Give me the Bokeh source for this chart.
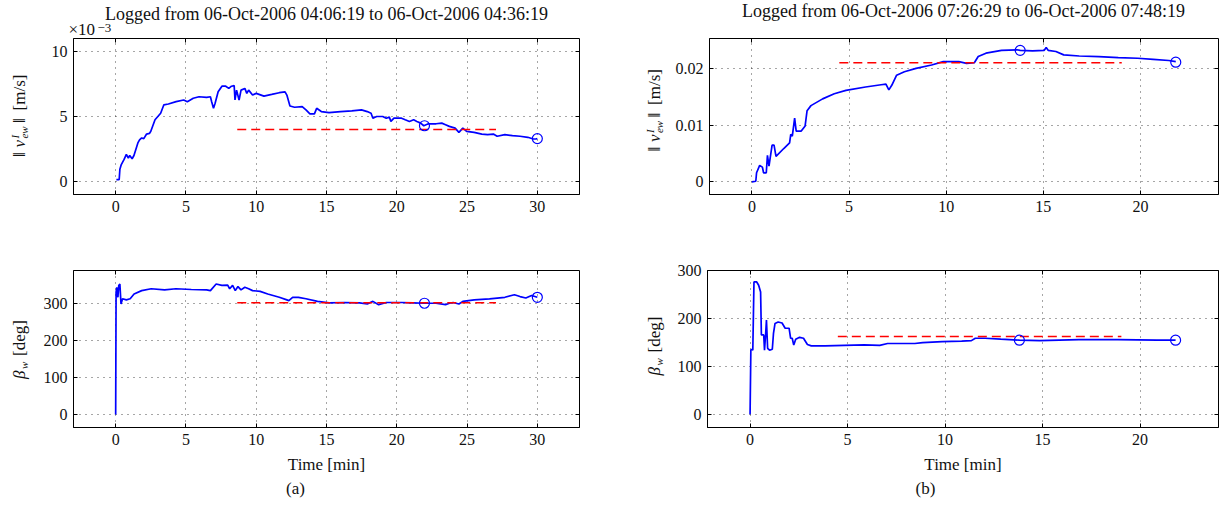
import math
from bokeh.plotting import figure
from bokeh.models import Range1d, FixedTicker, LinearAxis, Label, CustomJSTickFormatter
from bokeh.layouts import column, row
from bokeh.embed import file_html
from bokeh.resources import INLINE

FONT = "Liberation Serif"
BLUE = "#0000ff"
RED = "#ff0000"
INK = "#111111"

# ---------------- data (a) ----------------
title_a = "Logged from 06-Oct-2006 04:06:19 to 06-Oct-2006 04:36:19"
time_a = [0.05, 0.25, 0.3, 0.4, 0.6, 0.76, 0.9, 1.0, 1.17, 1.3, 1.58, 1.7, 1.85, 2.0, 2.2, 2.4, 2.5, 2.8,
          3.2, 3.43, 3.75, 4.3, 4.84, 5.1, 5.52, 5.93, 6.47, 6.74, 6.83, 6.96, 7.07, 7.29, 7.56, 7.83,
          8.05, 8.24, 8.43, 8.49, 8.6, 8.78, 8.92, 9.19, 9.33, 9.46, 9.74, 10.0, 10.55, 11.1, 11.64,
          12.05, 12.18, 12.4, 12.73, 13.27, 13.54, 13.82, 14.14, 14.3, 14.63, 15.18, 16.0, 16.8, 17.49,
          17.9, 18.17, 18.3, 18.57, 19.0, 19.25, 19.47, 19.58, 19.8, 20.34, 20.6, 20.9, 21.2, 21.43,
          21.7, 21.92, 22.25, 22.8, 23.2, 23.47, 23.74, 24.15, 24.42, 24.7, 24.97, 25.5, 26.05, 26.46,
          26.87, 27.14, 27.69, 28.23, 28.77, 29.32, 29.72, 29.9, 30.0]
speed_a_milli = [0.15, 0.15, 0.94, 1.3, 1.7, 2.08, 1.8, 2.0, 1.75, 2.0, 2.97, 3.2, 3.35, 3.3, 3.65, 3.7, 3.86,
                 4.75, 5.25, 5.9, 5.96, 6.14, 6.27, 6.14, 6.4, 6.52, 6.47, 6.52, 6.14, 5.63, 6.0, 6.9, 7.33,
                 7.33, 7.16, 7.33, 7.38, 6.27, 7.03, 6.27, 7.03, 7.16, 6.78, 7.03, 6.65, 6.78, 6.57, 6.7,
                 6.83, 6.9, 6.65, 5.81, 5.71, 5.76, 5.51, 5.2, 5.2, 5.63, 5.38, 5.3, 5.38, 5.43, 5.51, 5.38,
                 5.25, 4.87, 5.0, 5.0, 4.87, 4.95, 4.62, 4.87, 4.87, 4.75, 4.62, 4.75, 4.62, 4.49, 4.29,
                 4.44, 4.44, 4.49, 4.37, 4.24, 4.11, 3.78, 4.11, 3.86, 3.78, 3.65, 3.6, 3.65, 3.48, 3.6,
                 3.53, 3.48, 3.4, 3.27, 3.27, 3.3]
time_a_dir = [0, 0.03, 0.08, 0.16, 0.22, 0.3, 0.38, 0.49, 0.76, 1.03, 1.31, 1.85, 2.53, 3.48, 4.29, 5.38,
              6.47, 6.74, 7.15, 7.56, 7.97, 8.11, 8.32, 8.51, 8.7, 8.92, 9.19, 9.46, 9.74, 10.28, 10.82,
              11.64, 12.18, 12.32, 12.59, 13.0, 13.54, 14.36, 15.18, 16.27, 17.35, 17.9, 18.3, 18.71,
              19.25, 20.34, 21.16, 21.97, 22.79, 23.47, 23.74, 24.01, 24.42, 24.7, 25.51, 26.6, 27.69,
              28.37, 28.77, 29.18, 29.59, 30.0]
dir_a = [0, 330, 343, 316, 348, 352, 298, 312, 309, 312, 325, 334, 339, 336, 339, 337, 336, 334, 352, 348,
         349, 339, 348, 334, 345, 336, 343, 339, 334, 332, 325, 316, 309, 307, 316, 316, 312, 305, 301,
         302, 301, 298, 305, 296, 302, 302, 301, 300, 300, 296, 300, 302, 298, 305, 309, 312, 316, 323,
         318, 314, 321, 316]
mark_a_time = [21.97, 30.0]
mark_a_speed_milli = [4.29, 3.3]
mark_a_dir = [300, 316]
ref_a_time = [8.65, 27.06]
ref_a_speed_milli = 4.0
ref_a_dir = 301

# ---------------- data (b) ----------------
title_b = "Logged from 06-Oct-2006 07:26:29 to 06-Oct-2006 07:48:19"
time_b = [0, 0.2, 0.24, 0.4, 0.54, 0.6, 0.74, 0.8, 0.88, 0.94, 1.04, 1.14, 1.24, 1.64, 1.94, 2.0, 2.08,
          2.2, 2.28, 2.54, 2.74, 2.84, 3.04, 3.64, 4.24, 4.84, 5.85, 6.65, 6.9, 7.05, 7.2, 7.45, 7.85,
          8.45, 9.25, 9.85, 10.65, 11.05, 11.45, 11.65, 12.05, 12.85, 13.65, 13.81, 14.45, 15.05, 15.15,
          15.25, 15.65, 16.05, 16.85, 17.86, 18.86, 19.86, 20.66, 21.46, 21.82]
speed_b = [0, 0.0001, 0.0016, 0.0029, 0.0026, 0.0016, 0.0016, 0.0047, 0.0028, 0.0042, 0.0065, 0.0065,
           0.0045, 0.0059, 0.0069, 0.0084, 0.0081, 0.0113, 0.009, 0.009, 0.0099, 0.0126, 0.0135, 0.0147,
           0.0156, 0.0162, 0.0168, 0.0172, 0.0173, 0.0163, 0.0171, 0.0189, 0.0195, 0.0201, 0.0207,
           0.0213, 0.0213, 0.021, 0.0211, 0.0222, 0.0228, 0.0233, 0.0234, 0.0233, 0.0232, 0.0233,
           0.0238, 0.0233, 0.0231, 0.0225, 0.0223, 0.0222, 0.022, 0.0219, 0.0217, 0.0215, 0.0213]
time_b_dir = [0, 0.04, 0.08, 0.14, 0.2, 0.34, 0.44, 0.54, 0.58, 0.7, 0.74, 0.8, 0.84, 0.9, 1.0, 1.14, 1.2,
              1.28, 1.44, 1.64, 1.8, 2.0, 2.08, 2.16, 2.24, 2.34, 2.54, 2.74, 2.94, 3.14, 3.84, 4.84,
              5.85, 6.65, 7.05, 7.85, 8.45, 8.85, 9.85, 10.85, 11.35, 11.55, 12.05, 12.85, 13.81, 14.85,
              15.86, 16.86, 18.86, 20.86, 21.82]
dir_b = [0, 134, 136, 134, 277, 277, 270, 256, 166, 166, 134, 169, 197, 138, 134, 136, 169, 190, 193, 191,
         180, 180, 159, 159, 145, 157, 161, 159, 146, 143, 143, 144, 145, 144, 148, 148, 148, 150, 152,
         153, 154, 159, 159, 157, 155, 154, 155, 156, 156, 155, 155]
mark_b_time = [13.81, 21.82]
mark_b_speed = [0.0233, 0.0212]
mark_b_dir = [155, 155]
ref_b_time = [4.5, 19.04]
ref_b_speed = 0.0211
ref_b_dir = 162.5

ticks_a_x = [0, 5, 10, 15, 20, 25, 30]
ticks_b_x = [0, 5, 10, 15, 20]
ticks_a_speed = [0, 5, 10]
ticks_b_speed = [0, 0.01, 0.02]
ticks_dir = [0, 100, 200, 300]

xlabel = "Time [min]"
captions = ["(a)", "(b)"]


def make_fig(w, h, borders, xr, yr, xticks, yticks, show_xlabel):
    p = figure(width=w, height=h, x_range=Range1d(*xr), y_range=Range1d(*yr),
               output_backend="svg", toolbar_location=None,
               min_border_left=borders[0], min_border_right=borders[1],
               min_border_top=borders[2], min_border_bottom=borders[3])
    p.outline_line_color = "black"
    p.outline_line_alpha = 1.0
    p.outline_line_width = 1
    p.background_fill_color = "white"
    p.border_fill_color = "white"
    p.xaxis.ticker = FixedTicker(ticks=xticks)
    p.yaxis.ticker = FixedTicker(ticks=yticks)
    for ax in list(p.xaxis) + list(p.yaxis):
        ax.major_tick_in = 4
        ax.major_tick_out = 0
        ax.minor_tick_line_color = None
        ax.axis_line_color = "black"
        ax.major_tick_line_color = "black"
        ax.major_label_text_font = FONT
        ax.major_label_text_font_size = "16px"
        ax.major_label_text_color = INK
    p.xaxis.major_label_standoff = 6
    p.yaxis.major_label_standoff = 6
    if show_xlabel:
        p.xaxis.axis_label = xlabel
        p.xaxis.axis_label_text_font = FONT
        p.xaxis.axis_label_text_font_size = "17px"
        p.xaxis.axis_label_text_font_style = "normal"
        p.xaxis.axis_label_text_color = INK
        p.xaxis.axis_label_standoff = 7
    for loc, tk in (("above", xticks), ("right", yticks)):
        ax = LinearAxis(ticker=FixedTicker(ticks=tk),
                        formatter=CustomJSTickFormatter(code="return ''"),
                        major_label_standoff=0, major_tick_in=4, major_tick_out=0,
                        minor_tick_line_color=None, axis_line_color=None,
                        major_label_text_font_size="1px")
        p.add_layout(ax, loc)
    p.grid.grid_line_color = "#000000"
    p.grid.grid_line_alpha = 0.7
    p.grid.grid_line_dash = "1 5"
    p.grid.grid_line_width = 1
    return p


def strip(w, h):
    p = figure(width=w, height=h, x_range=Range1d(0, w), y_range=Range1d(0, h),
               x_axis_type=None, y_axis_type=None, output_backend="svg", toolbar_location=None,
               min_border_left=0, min_border_right=0, min_border_top=0, min_border_bottom=0)
    p.outline_line_color = None
    p.background_fill_color = "white"
    p.border_fill_color = "white"
    return p


def lab(p, text, x, y, size, style="normal", align="left", baseline="alphabetic", angle=0.0):
    p.add_layout(Label(x=x, y=y, x_units="screen", y_units="screen", text=text, angle=angle,
                       text_align=align, text_baseline=baseline, text_font=FONT,
                       text_font_size=f"{size}px", text_font_style=style, text_color=INK))


def rot_label(p, pieces, xc, yc):
    # pieces: (text, size, style, dx, width, advance); centred pieces rotated 90 degrees.
    # yc is measured from the bottom of the (row-aligned) frame of the strip.
    total = sum(pc[5] for pc in pieces)
    cur = yc - total / 2.0
    for text, size, style, dx, wdt, adv in pieces:
        lab(p, text, xc + dx, cur + wdt / 2.0, size, style, align="center", baseline="middle",
            angle=math.pi / 2)
        cur += adv


speed_pieces = [("\u2016", 17, "normal", 0, 6, 10), ("v", 17, "italic", 0, 7.5, 9),
                ("I", 11, "italic", -5, 3.7, 0), ("ew", 11, "italic", 4, 12.2, 15),
                ("\u2016", 17, "normal", 0, 6, 13), ("[m/s]", 17, "normal", 0, 36, 36)]
dir_pieces = [("\u03b2", 17, "italic", 0, 8.5, 10), ("w", 11, "italic", 4, 7.3, 13),
              ("[deg]", 17, "normal", 0, 36, 36)]

# ---- title strips (page y 0..38) ----
t_left = strip(612, 38)
lab(t_left, title_a, 326, 25, 18, align="center", baseline="middle")
lab(t_left, "\u00d710", 68, 0, 17, baseline="bottom")
lab(t_left, "\u22123", 97, 7, 13, baseline="bottom")
t_right = strip(608, 38)
lab(t_right, title_b, 351, 28, 18, align="center", baseline="middle")

# ---- top row (page y 38..232) ----
yl_tl = strip(40, 194)
rot_label(yl_tl, speed_pieces, 19, 78.5)
p1 = make_fig(572, 194, (33, 33, 0, 37), (-3, 33), (-1, 11), ticks_a_x, ticks_a_speed, False)
p1.line(time_a, speed_a_milli, line_color=BLUE, line_width=1.7)
p1.line(ref_a_time, [ref_a_speed_milli] * len(ref_a_time), line_color=RED, line_width=1.5, line_dash="9 5")
p1.scatter(mark_a_time, mark_a_speed_milli, marker="circle", size=10, fill_color=None,
           line_color=BLUE, line_width=1.2)

yl_tr = strip(60, 194)
rot_label(yl_tr, speed_pieces, 42, 84)
p3 = make_fig(548, 194, (35, 2, 0, 38), (-2.183, 24.02), (-0.00225, 0.0254), ticks_b_x, ticks_b_speed, False)
p3.line(time_b, speed_b, line_color=BLUE, line_width=1.7)
p3.line(ref_b_time, [ref_b_speed] * len(ref_b_time), line_color=RED, line_width=1.5, line_dash="9 5")
p3.scatter(mark_b_time, mark_b_speed, marker="circle", size=10, fill_color=None,
           line_color=BLUE, line_width=1.2)

# ---- bottom row (page y 232..478) ----
yl_bl = strip(40, 246)
rot_label(yl_bl, dir_pieces, 19, 78)
p2 = make_fig(572, 246, (33, 33, 38, 51), (-3, 33), (-35.3, 388.3), ticks_a_x, ticks_dir, True)
p2.line(time_a_dir, dir_a, line_color=BLUE, line_width=1.7)
p2.line(ref_a_time, [ref_a_dir] * len(ref_a_time), line_color=RED, line_width=1.5, line_dash="9 5")
p2.scatter(mark_a_time, mark_a_dir, marker="circle", size=10, fill_color=None,
           line_color=BLUE, line_width=1.2)

yl_br = strip(60, 246)
rot_label(yl_br, dir_pieces, 42, 81.5)
p4 = make_fig(548, 246, (35, 2, 38, 50), (-2.183, 24.02), (-28, 301), ticks_b_x, ticks_dir, True)
p4.line(time_b_dir, dir_b, line_color=BLUE, line_width=1.7)
p4.line(ref_b_time, [ref_b_dir] * len(ref_b_time), line_color=RED, line_width=1.5, line_dash="9 5")
p4.scatter(mark_b_time, mark_b_dir, marker="circle", size=10, fill_color=None,
           line_color=BLUE, line_width=1.2)

# ---- caption strips (page y 478..508) ----
c_left = strip(612, 30)
lab(c_left, captions[0], 295, 20, 17, align="center", baseline="middle")
c_right = strip(608, 30)
lab(c_right, captions[1], 313, 20, 17, align="center", baseline="middle")

layout = column(row(t_left, t_right),
                row(yl_tl, p1, yl_tr, p3),
                row(yl_bl, p2, yl_br, p4),
                row(c_left, c_right))
open("out.html", "w").write(file_html(layout, INLINE))
